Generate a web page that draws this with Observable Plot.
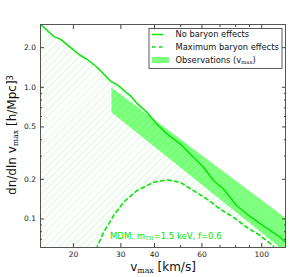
<!DOCTYPE html>
<html><head><meta charset="utf-8">
<script src="https://cdn.jsdelivr.net/npm/d3@7"></script>
<script src="https://cdn.jsdelivr.net/npm/@observablehq/plot@0.6"></script>
<style>
html,body{margin:0;padding:0;background:#fff}
svg{font-family:"DejaVu Sans",sans-serif}
</style>
</head><body>
<svg width="0" height="0" style="position:absolute">
  <defs>
    <pattern id="hatch" patternUnits="userSpaceOnUse" width="5" height="5" patternTransform="rotate(45)">
      <line x1="0" y1="0" x2="0" y2="5" stroke="#a6efa6" stroke-width="0.8"></line>
    </pattern>
  </defs>
</svg>
<div id="chart"></div>
<script>
// No baryon effects (solid)
const noBaryonV = [15.1, 16.9, 18.0, 19.8, 21.1, 22.4, 24.5, 27.4, 29.4, 31.1, 32.5, 34.6, 37.5, 40.8, 44.5, 49.8, 57.4, 60.8, 66.2, 72.1, 80.8, 88.0, 98.6, 117, 124];
const noBaryonN = [3.0, 2.44, 2.30, 1.96, 1.76, 1.64, 1.42, 1.12, 1.03, 0.93, 0.865, 0.748, 0.646, 0.527, 0.443, 0.372, 0.278, 0.247, 0.196, 0.169, 0.126, 0.109, 0.092, 0.0727, 0.065];
// Maximum baryon effects (dashed)
const maxBaryonV = [24.3, 25.9, 28.2, 30.7, 34.4, 39.7, 44.5, 49.8, 55.8, 62.5, 70.0, 78.5, 88.0, 98.6, 110, 112];
const maxBaryonN = [0.059, 0.0793, 0.106, 0.134, 0.164, 0.190, 0.198, 0.190, 0.164, 0.142, 0.119, 0.103, 0.0865, 0.0748, 0.0628, 0.059];
// Observations band
const obsV = [27.8, 124];
const obsLow = [0.642, 0.055];
const obsHigh = [0.99, 0.100];
// Ticks
const xTicks = [20, 30, 40, 60, 100];
const xMinor = [50, 70, 80, 90];
const yTicks = [0.1, 0.2, 0.5, 1.0, 2.0];
const yMinor = [0.07, 0.08, 0.09, 0.3, 0.4, 0.6, 0.7, 0.8, 0.9];
const xDomain = [15.1, 122.5];
const yDomain = [0.0607, 3.0];
const legendLabels = ["No baryon effects", "Maximum baryon effects", "Observations (v"];

const green = "#00e800";

const solid = noBaryonV.map((v, i) => ({v, n: noBaryonN[i]}));
const dashed = maxBaryonV.map((v, i) => ({v, n: maxBaryonN[i]}));
const hatchPoly = solid.concat(dashed.slice().reverse(), [{v: xDomain[0], n: yDomain[0]}]);

const tickStroke = "#444";
const chart = Plot.plot({
  width: 296, height: 277,
  marginLeft: 40, marginRight: 11, marginTop: 24, marginBottom: 30,
  style: {fontFamily: "DejaVu Sans", background: "#fff"},
  x: {type: "log", domain: xDomain},
  y: {type: "log", domain: yDomain},
  marks: [
    Plot.line(hatchPoly, {x: "v", y: "n", fill: "url(#hatch)", stroke: "none", clip: true}),
    Plot.areaY(obsV, {x: obsV, y1: obsLow, y2: obsHigh, fill: "#00ff00", fillOpacity: 0.5, clip: true}),
    Plot.line(solid, {x: "v", y: "n", stroke: green, strokeWidth: 1.5, clip: true}),
    Plot.line(dashed, {x: "v", y: "n", stroke: green, strokeWidth: 1.6, strokeDasharray: "3.5,3.5", clip: true}),
    Plot.frame({stroke: "#555", strokeWidth: 1}),
    // labels
    Plot.axisX({ticks: xTicks, anchor: "bottom", tickSize: 0, tickPadding: 4, tickFormat: d => String(d), fontSize: 7.5, fill: "#222", label: null}),
    Plot.axisY({ticks: yTicks, anchor: "left", tickSize: 0, tickPadding: 4.5, tickFormat: d => d.toFixed(1), fontSize: 7.5, fill: "#222", label: null}),
    // inward tick marks
    Plot.axisX({ticks: xTicks, anchor: "bottom", tickSize: -4, tickFormat: () => "", stroke: tickStroke, label: null}),
    Plot.axisX({ticks: xTicks, anchor: "top", tickSize: -4, tickFormat: () => "", stroke: tickStroke, label: null}),
    Plot.axisX({ticks: xMinor, anchor: "bottom", tickSize: -2, tickFormat: () => "", stroke: tickStroke, label: null}),
    Plot.axisX({ticks: xMinor, anchor: "top", tickSize: -2, tickFormat: () => "", stroke: tickStroke, label: null}),
    Plot.axisY({ticks: yTicks, anchor: "left", tickSize: -4, tickFormat: () => "", stroke: tickStroke, label: null}),
    Plot.axisY({ticks: yTicks, anchor: "right", tickSize: -4, tickFormat: () => "", stroke: tickStroke, label: null}),
    Plot.axisY({ticks: yMinor, anchor: "left", tickSize: -2, tickFormat: () => "", stroke: tickStroke, label: null}),
    Plot.axisY({ticks: yMinor, anchor: "right", tickSize: -2, tickFormat: () => "", stroke: tickStroke, label: null})
  ]
});
document.getElementById("chart").appendChild(chart);

const svg = d3.select(chart);
function rich(sel, parts) {
  parts.forEach(([t, k]) => {
    const ts = sel.append("tspan").text(t);
    if (k === "sub") ts.attr("font-size", "65%").attr("baseline-shift", "-20%").attr("font-family", "DejaVu Serif");
    if (k === "sup") ts.attr("font-size", "70%").attr("baseline-shift", "35%");
  });
}
// x label
const xl = svg.append("text").attr("x", 163).attr("y", 271).attr("text-anchor", "middle")
  .attr("font-size", 12).attr("fill", "#111");
rich(xl, [["v"], ["max", "sub"], [" [km/s]"]]);
// y label
const yl = svg.append("text").attr("transform", "translate(16,135) rotate(-90)").attr("text-anchor", "middle")
  .attr("font-size", 12).attr("fill", "#111");
rich(yl, [["dn/dln v"], ["max", "sub"], [" [h/Mpc]"], ["3", "sup"]]);
// MDM annotation
const mdm = svg.append("text").attr("x", 110).attr("y", 239).attr("text-anchor", "start")
  .attr("font-size", 8.5).attr("fill", green);
rich(mdm, [["MDM: m"], ["TH", "sub"], ["=1.5 keV, f=0.6"]]);

// legend
const lg = svg.append("g").attr("font-size", 8.3).attr("fill", "#111").attr("text-anchor", "start");
lg.append("rect").attr("x", 149).attr("y", 28.5).attr("width", 133).attr("height", 40)
  .attr("fill", "#fff").attr("stroke", "#333").attr("stroke-width", 0.8);
const rows = [34.5, 47, 60];
lg.append("line").attr("x1", 152).attr("x2", 163).attr("y1", rows[0]).attr("y2", rows[0]).attr("stroke", green).attr("stroke-width", 1.5);
lg.append("line").attr("x1", 152).attr("x2", 163).attr("y1", rows[1]).attr("y2", rows[1]).attr("stroke", green).attr("stroke-width", 1.5).attr("stroke-dasharray", "3.5,3.5");
lg.append("rect").attr("x", 152).attr("y", rows[2] - 3).attr("width", 17).attr("height", 6).attr("fill", "#00ff00").attr("fill-opacity", 0.5);
legendLabels.forEach((t, i) => {
  const tx = lg.append("text").attr("x", 175.5).attr("y", rows[i]).attr("dy", "0.35em");
  if (i === 2) rich(tx, [[t], ["max", "sub"], [")"]]);
  else tx.text(t);
});
</script>
</body></html>
